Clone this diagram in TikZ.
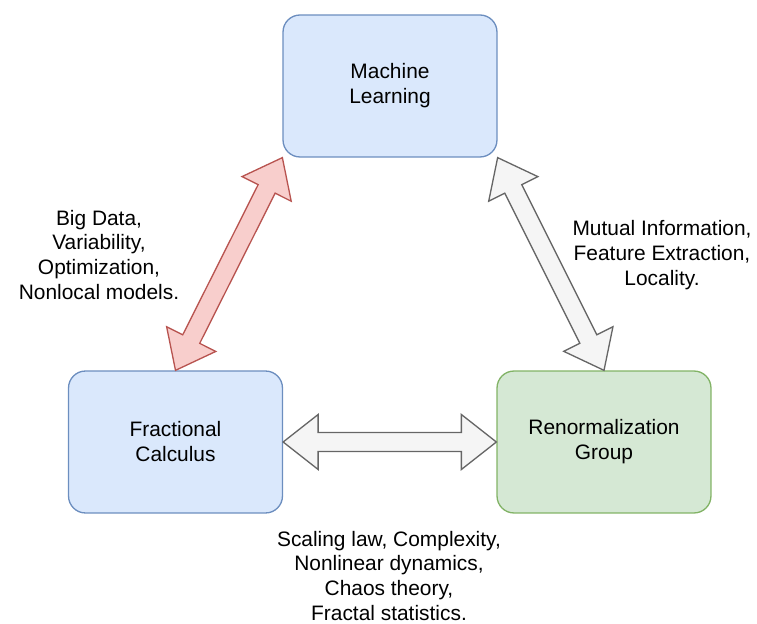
\documentclass[tikz,border=0pt]{standalone}
\usepackage{fontspec}
\setmainfont{Liberation Sans}
\usepackage{tikz}
\usetikzlibrary{calc}
\definecolor{boxblue}{HTML}{DAE8FC}
\definecolor{edgeblue}{HTML}{6C8EBF}
\definecolor{boxgreen}{HTML}{D5E8D4}
\definecolor{edgegreen}{HTML}{82B366}
\definecolor{arrowred}{HTML}{F8CECC}
\definecolor{edgered}{HTML}{B85450}
\definecolor{arrowgray}{HTML}{F5F5F5}
\definecolor{edgegray}{HTML}{666666}

% sizes of the wide arrows
\newcommand{\headlen}{0.7cm}
\newcommand{\headhw}{0.55cm}
\newcommand{\shafthw}{0.19cm}
% wide double-headed arrow from #2 to #3
\newcommand{\flexarrow}[3]{%
  \draw[#1] (#2)
    -- ($(#2)!\headlen!(#3)!\headhw!90:(#3)$)
    -- ($(#2)!\headlen!(#3)!\shafthw!90:(#3)$)
    -- ($(#3)!\headlen!(#2)!\shafthw!-90:(#2)$)
    -- ($(#3)!\headlen!(#2)!\headhw!-90:(#2)$)
    -- (#3)
    -- ($(#3)!\headlen!(#2)!\headhw!90:(#2)$)
    -- ($(#3)!\headlen!(#2)!\shafthw!90:(#2)$)
    -- ($(#2)!\headlen!(#3)!\shafthw!-90:(#3)$)
    -- ($(#2)!\headlen!(#3)!\headhw!-90:(#3)$)
    -- cycle;}

\tikzset{
  box/.style={rectangle, rounded corners=0.34cm, line width=0.75pt,
    minimum width=4.28cm, minimum height=2.84cm, align=center,
    font=\fontsize{11.9}{14.2}\selectfont},
  note/.style={align=center, font=\fontsize{11.9}{14.2}\selectfont},
  redarrow/.style={fill=arrowred, draw=edgered, line width=0.75pt, line join=miter},
  grayarrow/.style={fill=arrowgray, draw=edgegray, line width=0.75pt, line join=miter}
}

\begin{document}
\begin{tikzpicture}[x=0.02cm, y=-0.02cm]
    \useasboundingbox (0,0) rectangle (757,624);

    % Boxes
    \node[box, fill=boxblue, draw=edgeblue] (ml) at (390,86) {Machine\\Learning};
    \node[box, fill=boxblue, draw=edgeblue] (fc) at (175.5,442) {Fractional\\Calculus};
    \node[box, fill=boxgreen, draw=edgegreen] (rg) at (604,442) {Renormalization\\Group};

    % Arrows
    \flexarrow{redarrow}{fc.north}{ml.south west}
    \flexarrow{grayarrow}{ml.south east}{rg.north}
    \flexarrow{grayarrow}{fc.east}{rg.west}

    % Labels
    \node[note] (lbl-left) at (99,255) {Big Data,\\Variability,\\Optimization,\\Nonlocal models.};
    \node[note] (lbl-right) at (662,255) {Mutual Information,\\Feature Extraction,\\Locality.};
    \node[note] (lbl-bottom) at (389,576) {Scaling law, Complexity,\\Nonlinear dynamics,\\Chaos theory,\\Fractal statistics.};
\end{tikzpicture}
\end{document}
